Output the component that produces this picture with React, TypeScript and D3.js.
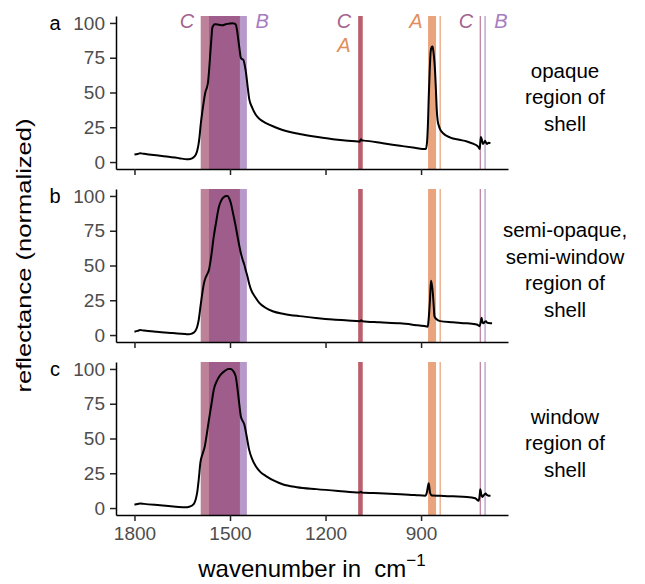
import React, { useEffect, useRef } from "react";
import * as d3 from "d3";

// tick values
const wnTicks = [1800, 1500, 1200, 900];
const yTicks = [0, 25, 50, 75, 100];

// facet labels
const panelLetters = ["a", "b", "c"];
const panelNames = [
  ["opaque", "region of", "shell"],
  ["semi-opaque,", "semi-window", "region of", "shell"],
  ["window", "region of", "shell"],
];

// spectra: [wavenumber, reflectance]
const opaque = [
  [1800, 5.4], [1790, 5.8], [1782, 6.3], [1770, 5.9], [1740, 5.0], [1700, 4.0], [1660, 2.8], [1635, 2.0],
  [1625, 2.2], [1614, 3.5], [1607, 5.5], [1603, 8.2], [1599, 12.5], [1596, 17.6], [1592, 27], [1587, 36],
  [1582, 44], [1577, 50.5], [1572, 54], [1569, 57.5], [1565, 68], [1561, 81], [1558, 90], [1556, 96],
  [1552, 98.3], [1547, 99], [1535, 98.7], [1524, 98.4], [1514, 99], [1500, 99.6], [1493, 99.8], [1486, 99.5],
  [1482, 99], [1478, 95], [1474, 88], [1470, 81], [1466, 75], [1462, 74], [1458, 73.5], [1454, 70],
  [1450, 64.6], [1445, 55], [1440, 45.8], [1430, 39], [1419, 34], [1405, 30.5], [1387, 28], [1360, 25.2],
  [1335, 23], [1300, 21], [1282, 20.2], [1230, 18.2], [1177, 16.4], [1130, 15.3], [1098, 14.8], [1093, 14.6],
  [1089, 16.4], [1086, 15.5], [1080, 15.4], [1020, 13.5], [966, 11.7], [920, 10.2], [895, 9.4], [885, 9.3],
  [881, 15], [878, 30], [876, 45.8], [873, 65], [870, 79], [867, 82.5], [864, 83], [861, 79],
  [858, 72], [856, 65], [853, 50], [851, 38.7], [848, 30], [844, 26], [840, 23.5], [830, 20.5],
  [808, 17.6], [780, 16], [756, 14.8], [735, 13], [724, 11.7], [719, 10.5], [716, 9.4], [714, 14],
  [712, 18], [709, 16], [706, 13], [702, 14], [699, 15.3], [696, 14], [693, 13], [688, 13.8], [682, 13.6],
];

const semiOpaque = [
  [1800, 2.4], [1790, 3.0], [1782, 3.6], [1770, 3.2], [1730, 2.3], [1680, 1.4], [1640, 0.7], [1630, 0.5],
  [1620, 1.0], [1609, 2.9], [1603, 6], [1598, 11.2], [1593, 20], [1587, 30], [1582, 37], [1577, 41],
  [1571, 44], [1566, 47], [1560, 55], [1551, 70.7], [1543, 82], [1535, 92], [1527, 97], [1519, 99.3],
  [1512, 100], [1508, 100], [1502, 98], [1497, 94.6], [1490, 87], [1482, 78], [1474, 68], [1466, 59],
  [1460, 54], [1455, 50.5], [1450, 46], [1445, 42], [1440, 37], [1434, 32.6], [1420, 27], [1408, 23.1],
  [1390, 19.8], [1366, 17.1], [1330, 15.2], [1282, 13.6], [1230, 12.3], [1177, 11.2], [1130, 10.5], [1092, 10.0],
  [1088, 10.6], [1085, 10.0], [1030, 9.2], [966, 8.4], [920, 7.3], [890, 6.5], [879, 6.0], [876, 12],
  [872, 25.5], [869, 39], [866, 36], [863, 30], [860, 20], [858, 13.6], [852, 11.5], [840, 10],
  [800, 9.2], [756, 8.4], [725, 7.6], [716, 6.4], [713, 9], [710, 12.4], [707, 9], [704, 8.4],
  [700, 9.5], [696, 10], [693, 9], [687, 8.6], [677, 8.4],
];

const windowRegion = [
  [1800, 2.4], [1790, 2.9], [1782, 3.3], [1770, 3.0], [1720, 2.0], [1670, 1.0], [1640, 0.5], [1628, 0.9],
  [1614, 2.9], [1608, 6], [1603, 11.2], [1598, 21], [1593, 32.6], [1586, 39], [1579, 44.5], [1573, 53],
  [1566, 63.6], [1558, 75], [1551, 85], [1540, 92], [1530, 95.7], [1515, 98.8], [1505, 99.9], [1497, 100],
  [1490, 98.5], [1482, 94.5], [1476, 85], [1470, 73], [1466, 66], [1460, 62.5], [1455, 60], [1448, 52],
  [1440, 42], [1430, 35], [1419, 30], [1405, 26], [1387, 23], [1360, 19.5], [1335, 17.1], [1290, 15.0],
  [1229, 13.6], [1160, 12.3], [1093, 11.2], [1089, 11.8], [1086, 11.1], [1030, 10.6], [966, 10], [920, 9.4],
  [887, 8.8], [882, 11], [878, 16], [876, 17.9], [874, 15], [872, 11.2], [866, 9], [840, 8.8],
  [800, 8.4], [756, 8], [730, 7], [719, 5.2], [716, 9], [714, 13.6], [711, 10], [708, 8],
  [704, 9], [700, 10], [697, 10.4], [694, 9.5], [690, 9], [682, 8.8],
];

// absorption bands [from, to] in wavenumber
const bandsC = [[1592, 1469], [1097, 1084], [716, 712]];
const bandsB = [[1566, 1447], [701, 697]];
const bandsA = [[1097, 1084], [878, 853], [842, 838]];

// band labels (top panel only)
const bandLabels = ["C", "B", "C", "A", "A", "C", "B"];
const bandLabelPos = [1635, 1399, 1142, 1142, 916, 759, 649];
const bandLabelRow = [0, 0, 0, 1, 0, 0, 0];

const colors = {
  C: "#bd8299", B: "#b79aca", A: "#e9a37d", CB: "#9e5d8a", CA: "#b95f75",
  textC: "#a4648d", textB: "#a67cc0", textA: "#e08f5c",
};

const font = "'Liberation Sans', Arial, Helvetica, sans-serif";

function overlap(l1, l2) {
  const out = [];
  l1.forEach(a => l2.forEach(b => {
    const hi = Math.min(a[0], b[0]);
    const lo = Math.max(a[1], b[1]);
    if (hi > lo) out.push([hi, lo]);
  }));
  return out;
}

export default function App() {
  const svgNode = useRef(null);
  const width = 645, height = 584;
  const left = 116, right = 508;
  const panels = [{ top: 16, bottom: 169 }, { top: 189, bottom: 342 }, { top: 362, bottom: 515 }];
  const spectra = [opaque, semiOpaque, windowRegion];

  useEffect(() => {
    const svg = d3.select(svgNode.current);
    svg.selectAll("*").remove();

    const x = d3.scaleLinear().domain([1858, 627]).range([left, right]);

    spectra.forEach((data, i) => {
      const p = panels[i];
      const y = d3.scaleLinear().domain([-5, 105]).range([p.bottom, p.top]);
      const g = svg.append("g");

      //bands, then the overlapping parts
      const drawBands = (list, color) => g.selectAll(null)
        .data(list).enter().append("rect")
        .attr("x", d => x(d[0]))
        .attr("width", d => Math.max(1, x(d[1]) - x(d[0])))
        .attr("y", p.top)
        .attr("height", p.bottom - p.top)
        .attr("fill", color);
      drawBands(bandsC, colors.C);
      drawBands(bandsB, colors.B);
      drawBands(bandsA, colors.A);
      drawBands(overlap(bandsC, bandsB), colors.CB);
      drawBands(overlap(bandsC, bandsA), colors.CA);

      //spectrum
      const line = d3.line().x(d => x(d[0])).y(d => y(d[1])).curve(d3.curveMonotoneX);
      g.append("path").datum(data)
        .attr("d", line)
        .attr("fill", "none")
        .attr("stroke", "#000")
        .attr("stroke-width", 2)
        .attr("stroke-linejoin", "round");

      //axes
      const yAxis = g.append("g")
        .attr("transform", `translate(${left},0)`)
        .call(d3.axisLeft(y).tickValues(yTicks).tickSize(6).tickPadding(5).tickSizeOuter(0));
      const xAxis = g.append("g")
        .attr("transform", `translate(0,${p.bottom})`)
        .call(d3.axisBottom(x).tickValues(wnTicks).tickFormat(d3.format("d"))
          .tickSize(6).tickPadding(6).tickSizeOuter(0));
      if (i < 2) xAxis.selectAll(".tick text").remove();
      [xAxis, yAxis].forEach(a => {
        a.select(".domain").attr("stroke", "#000").attr("stroke-width", 1.5);
        a.selectAll(".tick line").attr("stroke", "#222").attr("stroke-width", 1.5);
        a.selectAll(".tick text").attr("fill", "#4d4d4d").attr("font-size", 19).attr("font-family", font);
      });

      //panel letter
      svg.append("text")
        .attr("x", 55).attr("y", y(100))
        .attr("dominant-baseline", "central")
        .attr("text-anchor", "middle")
        .attr("font-size", 20).attr("font-family", font)
        .text(panelLetters[i]);

      //strip label
      const names = panelNames[i];
      const cy = (p.top + p.bottom) / 2 + 4;
      const lh = 26.5;
      svg.append("g").selectAll(null).data(names).enter().append("text")
        .attr("x", 565)
        .attr("y", (d, k) => cy + (k - (names.length - 1) / 2) * lh)
        .attr("dominant-baseline", "central")
        .attr("text-anchor", "middle")
        .attr("font-size", 20.5).attr("font-family", font)
        .text(d => d);

      //band labels on top panel
      if (i === 0) {
        const rowVal = [101.4, 84];
        g.selectAll(null).data(bandLabels).enter().append("text")
          .attr("x", (d, k) => x(bandLabelPos[k]))
          .attr("y", (d, k) => y(rowVal[bandLabelRow[k]]))
          .attr("dominant-baseline", "central")
          .attr("text-anchor", "middle")
          .attr("font-size", 20).attr("font-style", "italic").attr("font-family", font)
          .attr("fill", d => colors["text" + d])
          .text(d => d);
      }
    });

    //axis titles
    const xt = svg.append("text")
      .attr("x", (left + right) / 2).attr("y", 577)
      .attr("text-anchor", "middle")
      .attr("font-size", 24).attr("font-family", font);
    xt.append("tspan").text("wavenumber in\u00a0 cm");
    xt.append("tspan").attr("dy", -11).attr("font-size", 17).text("\u22121");

    svg.append("text")
      .attr("transform", `translate(23,${(panels[0].top + panels[2].bottom) / 2 - 10}) rotate(-90)`)
      .attr("text-anchor", "middle")
      .attr("dominant-baseline", "central")
      .attr("font-size", 21).attr("font-family", font)
      .attr("textLength", 274).attr("lengthAdjust", "spacingAndGlyphs")
      .text("reflectance (normalized)");
  }, []);

  return (
    <svg ref={svgNode} width={width} height={height}
      style={{ position: "absolute", left: 0, top: 0, background: "#fff" }} />
  );
}
